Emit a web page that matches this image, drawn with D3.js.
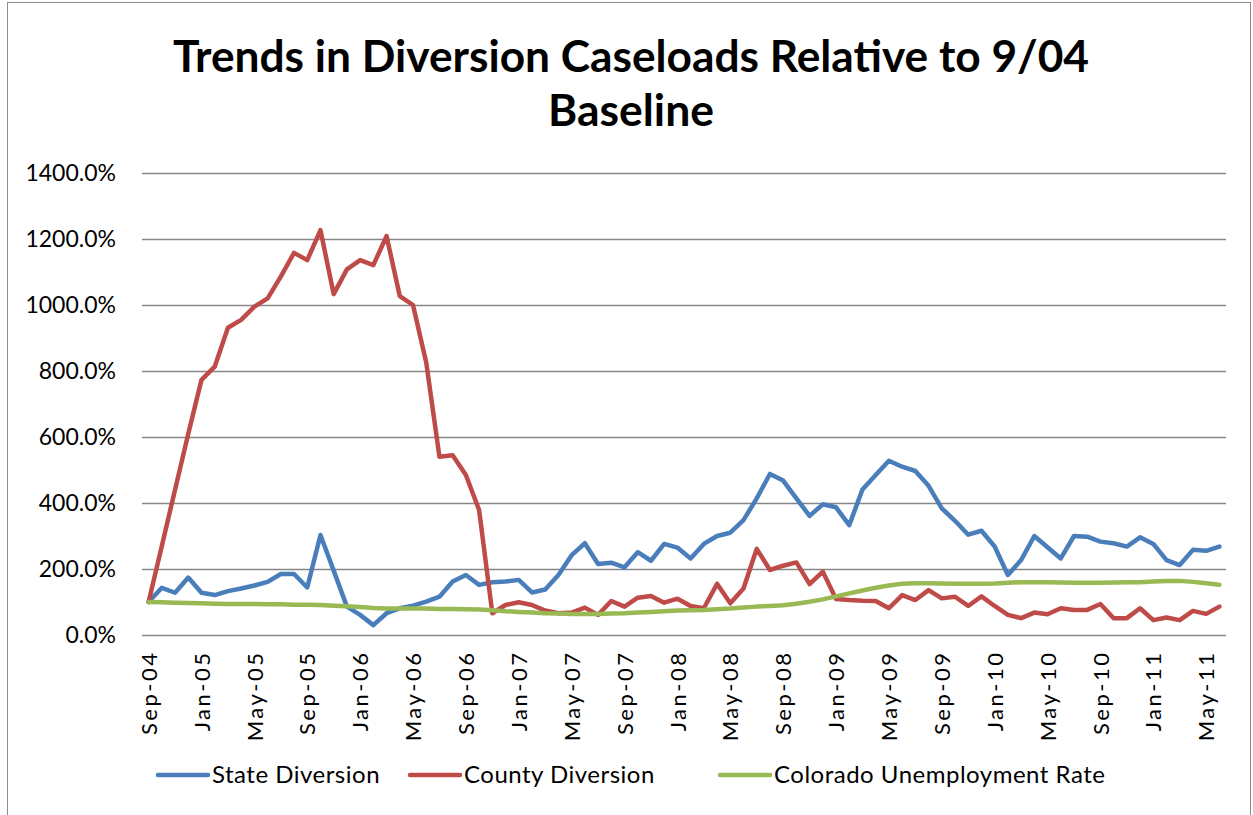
<!DOCTYPE html>
<html>
<head>
<meta charset="utf-8">
<script src="https://cdn.jsdelivr.net/npm/d3@7"></script>
<style>
  html, body { margin: 0; padding: 0; background: #ffffff; }
  svg { display: block; font-family: Lato, "Open Sans", sans-serif; }
</style>
</head>
<body>
<svg id="chart" width="1253" height="815"></svg>
<script>
// Monthly categories, Sep 2004 through Jun 2011
const months = d3.timeMonth.range(new Date(2004, 8, 1), new Date(2011, 6, 1));
const fmtMonth = d3.timeFormat("%b-%y");
const categories = months.map(fmtMonth);

// Labels shown on the category axis (every fourth month)
const tickLabels = ["Sep-04","Jan-05","May-05","Sep-05","Jan-06","May-06","Sep-06",
  "Jan-07","May-07","Sep-07","Jan-08","May-08","Sep-08","Jan-09","May-09","Sep-09",
  "Jan-10","May-10","Sep-10","Jan-11","May-11"];

// Percent of the 9/04 baseline
const stateDiversion = [
  100,143,128,174,128,121,133,141,150,161,185,185,144,303,195,86,61,30,66,81,89,101,
  116,162,182,152,160,162,167,129,138,182,242,278,215,219,205,251,225,276,265,232,
  276,300,310,348,414,488,468,414,361,396,387,333,441,485,528,510,497,452,384,346,304,316,
  268,182,227,300,266,232,300,298,283,278,268,296,276,227,212,258,255,268];

const countyDiversion = [
  100,270,440,610,773,813,931,955,995,1020,1086,1158,1136,1227,1033,1108,1136,1121,1209,1027,1000,826,
  540,545,485,379,66,91,99,91,74,66,68,83,61,103,86,113,118,98,110,88,
  81,155,96,141,261,197,210,220,154,192,109,106,104,103,81,121,106,136,111,116,88,117,
  88,61,51,68,63,81,76,76,94,51,51,81,45,53,45,73,64,86];

const unemploymentRate = [
  100,99,98,97,96,95,94,94,94,93,93,92,92,91,89,87,85,82,80,80,80,80,
  79,79,78,77,75,72,70,68,66,65,64,64,64,65,66,68,70,72,74,75,
  76,78,80,83,86,88,90,95,101,108,117,126,135,143,150,155,157,157,156,155,155,155,
  156,158,160,160,160,159,158,158,158,159,160,160,162,164,164,161,157,152];

const yTicks = [0, 200, 400, 600, 800, 1000, 1200, 1400];

const seriesNames = ["State Diversion", "County Diversion", "Colorado Unemployment Rate"];
const seriesColors = ["#4a7ebb", "#be4b48", "#98b954"];

const series = [stateDiversion, countyDiversion, unemploymentRate].map((vals, k) => ({
  name: seriesNames[k], color: seriesColors[k], values: vals
}));

const svg = d3.select("#chart");
const plot = { left: 142, right: 1226, top: 173, bottom: 635 };

// Outer frame
svg.append("rect")
  .attr("x", 7.5).attr("y", 2.5).attr("width", 1243).attr("height", 830)
  .attr("fill", "#ffffff").attr("stroke", "#8c8c8c").attr("stroke-width", 1);

// Title
const title = svg.append("text")
  .attr("text-anchor", "middle").attr("font-weight", "bold")
  .attr("font-size", 44).attr("fill", "#000");
title.append("tspan").attr("x", 631).attr("y", 72)
  .attr("textLength", 916).attr("lengthAdjust", "spacingAndGlyphs")
  .text("Trends in Diversion Caseloads Relative to 9/04");
title.append("tspan").attr("x", 631).attr("y", 126)
  .attr("textLength", 166).attr("lengthAdjust", "spacingAndGlyphs")
  .text("Baseline");

const x = d3.scalePoint()
  .domain(categories)
  .range([plot.left, plot.right])
  .padding(0.5);

const y = d3.scaleLinear()
  .domain([0, 1400])
  .range([plot.bottom, plot.top]);

// Horizontal gridlines and value labels
const yAxis = d3.axisLeft(y)
  .tickValues(yTicks)
  .tickSize(-(plot.right - plot.left))
  .tickPadding(26)
  .tickFormat(d => d3.format(".1f")(d) + "%");

const gy = svg.append("g")
  .attr("transform", `translate(${plot.left},0)`)
  .call(yAxis);
gy.select(".domain").remove();
gy.selectAll(".tick line").attr("stroke", "#868686").attr("stroke-width", 1.5);
gy.selectAll(".tick text")
  .attr("font-size", 23).attr("fill", "#000")
  .attr("font-family", "Lato, sans-serif");

// Category axis
const xAxis = d3.axisBottom(x)
  .tickValues(tickLabels)
  .tickSize(0)
  .tickPadding(0);

const gx = svg.append("g")
  .attr("transform", `translate(0,${plot.bottom})`)
  .call(xAxis);
gx.select(".domain").remove();
gx.selectAll(".tick text")
  .attr("font-size", 22).attr("fill", "#000")
  .attr("font-family", "Lato, sans-serif")
  .attr("letter-spacing", 2.5)
  .attr("text-anchor", "end")
  .attr("transform", "rotate(-90)")
  .attr("x", -15.5).attr("y", 0).attr("dy", "0.35em");

// Series lines
const line = d3.line()
  .x((d, i) => x(categories[i]))
  .y(d => y(d));

svg.append("g").selectAll("path")
  .data(series)
  .join("path")
  .attr("d", s => line(s.values))
  .attr("fill", "none")
  .attr("stroke", s => s.color)
  .attr("stroke-width", 4.5)
  .attr("stroke-linejoin", "round")
  .attr("stroke-linecap", "round");

// Legend
const legendX = [158, 410, 720];
const legend = svg.append("g").selectAll("g")
  .data(series)
  .join("g")
  .attr("transform", (s, i) => `translate(${legendX[i]},775)`);
legend.append("line")
  .attr("x1", 0).attr("x2", 50).attr("y1", 0).attr("y2", 0)
  .attr("stroke", s => s.color).attr("stroke-width", 4.5)
  .attr("stroke-linecap", "round");
legend.append("text")
  .attr("x", 54).attr("y", 0).attr("dy", "0.35em")
  .attr("font-size", 24).attr("letter-spacing", 0.5).attr("fill", "#000")
  .text(s => s.name);
</script>
</body>
</html>
